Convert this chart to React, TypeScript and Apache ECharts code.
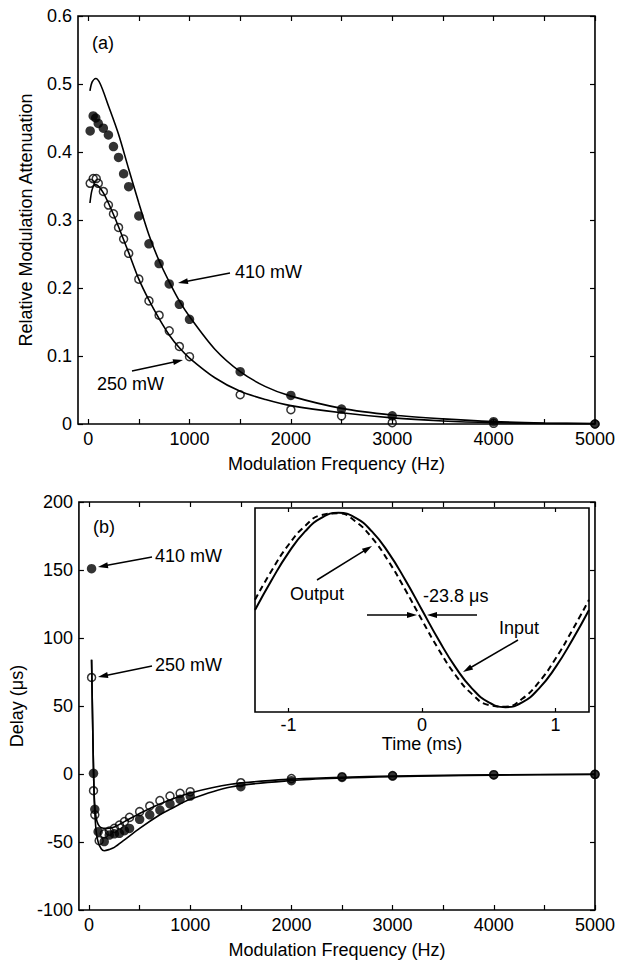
import React, { useEffect, useRef } from "react";
import * as echarts from "echarts";

const FONT = "'Liberation Sans', Arial, Helvetica, sans-serif";

// ---- Panel (a): relative modulation attenuation ----
const attenFreq410 = [20, 50, 75, 100, 150, 200, 250, 300, 350, 400, 500, 600, 700, 800, 900, 1000, 1500, 2000, 2500, 3000, 4000, 5000];
const atten410 = [0.431, 0.453, 0.450, 0.442, 0.435, 0.425, 0.408, 0.392, 0.368, 0.349, 0.306, 0.265, 0.236, 0.206, 0.176, 0.154, 0.077, 0.042, 0.022, 0.012, 0.0034, 0.0];
const attenFreq250 = [20, 50, 80, 100, 150, 200, 250, 300, 350, 400, 500, 600, 700, 800, 900, 1000, 1500, 2000, 2500, 3000, 4000, 5000];
const atten250 = [0.354, 0.361, 0.361, 0.354, 0.342, 0.322, 0.309, 0.289, 0.272, 0.251, 0.213, 0.181, 0.160, 0.137, 0.114, 0.099, 0.043, 0.021, 0.012, 0.002, 0.001, 0.0];

const fitFreqA410 = [18, 40, 75, 120, 200, 300, 400, 500, 600, 700, 800, 900, 1000, 1250, 1500, 1750, 2000, 2500, 3000, 3500, 4000, 4500, 5000];
const fitA410 = [0.490, 0.503, 0.508, 0.500, 0.468, 0.426, 0.375, 0.325, 0.278, 0.240, 0.209, 0.181, 0.158, 0.110, 0.077, 0.055, 0.041, 0.023, 0.0132, 0.0075, 0.0035, 0.0015, 0.0005];
const fitFreqA250 = [18, 40, 70, 100, 150, 200, 250, 300, 350, 400, 500, 600, 700, 800, 900, 1000, 1250, 1500, 1750, 2000, 2500, 3000, 3500, 4000, 4500, 5000];
const fitA250 = [0.325, 0.345, 0.352, 0.350, 0.340, 0.325, 0.308, 0.290, 0.271, 0.252, 0.213, 0.182, 0.155, 0.131, 0.112, 0.097, 0.068, 0.048, 0.036, 0.027, 0.0165, 0.009, 0.0045, 0.002, 0.0008, 0.0003];

// ---- Panel (b): delay ----
const delayFreq410 = [25, 44, 57, 90, 150, 200, 250, 300, 350, 400, 500, 600, 700, 800, 900, 1000, 1500, 2000, 2500, 3000, 4000, 5000];
const delay410 = [151, 0.5, -26, -42.4, -49.7, -44.9, -44, -43.6, -41.7, -40, -33.3, -30, -26.5, -22, -18.6, -16.2, -9.3, -4.9, -2.5, -1.5, -0.7, -0.2];
const delayFreq250 = [25, 44, 57, 100, 150, 200, 250, 300, 350, 400, 500, 600, 700, 800, 900, 1000, 1500, 2000, 2500, 3000, 4000, 5000];
const delay250 = [71, -12.3, -30, -49, -44, -42, -40, -37.5, -35, -31.9, -27.7, -23.5, -19.6, -16.2, -14.2, -13, -6.4, -3.4, -2, -1.2, -0.5, -0.2];

const fitFreqD250 = [25, 35, 45, 55, 70, 90, 120, 180, 250, 350, 500, 700, 1000, 1400, 2000, 2500, 3000, 4000, 5000];
const fitD250 = [84, 40, 0, -22, -32, -37, -39.5, -40, -39, -35, -29, -22, -14, -7.5, -3.8, -2.4, -1.5, -0.6, -0.2];
const fitFreqD410 = [25, 35, 45, 55, 70, 90, 120, 150, 200, 250, 350, 500, 700, 800, 1000, 1400, 2000, 2500, 3000, 4000, 5000];
const fitD410 = [84, 40, 0, -25, -42, -50, -55, -56.4, -55.5, -54, -48.5, -40, -30, -26, -18.6, -9.5, -4.8, -3, -2, -0.8, -0.3];

// ---- Inset: input / output waveforms ----
const insetTime = [-1.25, -1.125, -1, -0.875, -0.75, -0.625, -0.5, -0.375, -0.25, -0.125, 0, 0.125, 0.25, 0.375, 0.5, 0.625, 0.75, 0.875, 1, 1.125, 1.25];
const insetInput = [0, 0.309, 0.588, 0.809, 0.951, 1, 0.951, 0.809, 0.588, 0.309, 0, -0.309, -0.588, -0.809, -0.951, -1, -0.951, -0.809, -0.588, -0.309, 0];
const insetOutput = [0.105, 0.407, 0.669, 0.866, 0.978, 0.995, 0.914, 0.743, 0.5, 0.208, -0.105, -0.407, -0.669, -0.866, -0.978, -0.995, -0.914, -0.743, -0.5, -0.208, 0.105];

// ---- Ticks ----
const freqTicks = [0, 500, 1000, 1500, 2000, 2500, 3000, 3500, 4000, 4500, 5000];
const freqLabels = [0, 1000, 2000, 3000, 4000, 5000];
const timeTicks = [-1, 0, 1];

const zip = (xs: number[], ys: number[]) => xs.map((x, i) => [x, ys[i]]);

function arrowEls(x1: number, y1: number, x2: number, y2: number) {
  const dx = x2 - x1, dy = y2 - y1;
  const L = Math.hypot(dx, dy);
  const ux = dx / L, uy = dy / L;
  const hl = 10, hw = 3;
  const bx = x2 - ux * hl, by = y2 - uy * hl;
  return [
    { type: "line", shape: { x1, y1, x2: bx + ux * 2, y2: by + uy * 2 }, style: { stroke: "#000", lineWidth: 1.5 } },
    {
      type: "polygon",
      shape: { points: [[x2, y2], [bx - uy * hw, by + ux * hw], [bx + uy * hw, by - ux * hw]] },
      style: { fill: "#000" },
    },
  ];
}

function txt(text: string, x: number, y: number) {
  return {
    type: "text",
    x,
    y,
    style: { text, fill: "#000", font: `18px ${FONT}`, textVerticalAlign: "middle", textAlign: "left" },
  };
}

const labelStyle = { color: "#000", fontSize: 18, fontFamily: FONT };
const plain = (v: number) => String(v);

function freqAxis(gridIndex: number, bottom: boolean, nameGap: number) {
  return {
    type: "value",
    gridIndex,
    position: bottom ? "bottom" : "top",
    min: -100,
    max: 5000,
    axisLine: { show: false, onZero: false },
    axisTick: { show: true, inside: true, length: 5, customValues: freqTicks, lineStyle: { color: "#000", width: 1.2 } },
    axisLabel: bottom ? { show: true, ...labelStyle, margin: 6, customValues: freqLabels, formatter: plain } : { show: false },
    splitLine: { show: false },
    name: bottom ? "Modulation Frequency (Hz)" : "",
    nameLocation: "middle",
    nameGap,
    nameTextStyle: labelStyle,
  };
}

function valAxis(gridIndex: number, left: boolean, min: number, max: number, interval: number, name: string, fmt?: (v: number) => string) {
  return {
    type: "value",
    gridIndex,
    position: left ? "left" : "right",
    min,
    max,
    interval,
    axisLine: { show: false, onZero: false },
    axisTick: { show: true, inside: true, length: 5, lineStyle: { color: "#000", width: 1.2 } },
    axisLabel: left ? { show: true, ...labelStyle, margin: 6, formatter: fmt || plain } : { show: false },
    splitLine: { show: false },
    name: left ? name : "",
    nameLocation: "middle",
    nameGap: 43,
    nameTextStyle: labelStyle,
  };
}

const fitLine = (xi: number, yi: number, data: number[][]) => ({
  type: "line",
  xAxisIndex: xi,
  yAxisIndex: yi,
  data,
  showSymbol: false,
  smooth: 0.3,
  lineStyle: { color: "#000", width: 1.6 },
  silent: true,
  z: 2,
});

const filledPts = (xi: number, yi: number, data: number[][]) => ({
  type: "scatter",
  xAxisIndex: xi,
  yAxisIndex: yi,
  data,
  symbol: "circle",
  symbolSize: 9.5,
  itemStyle: { color: "#000" },
  silent: true,
  z: 4,
});

const openPts = (xi: number, yi: number, data: number[][]) => ({
  type: "scatter",
  xAxisIndex: xi,
  yAxisIndex: yi,
  data,
  symbol: "circle",
  symbolSize: 8,
  itemStyle: { color: "rgba(255,255,255,0)", borderColor: "#000", borderWidth: 1.5 },
  silent: true,
  z: 3,
});

export default function App() {
  const ref = useRef<HTMLDivElement>(null);
  useEffect(() => {
    if (!ref.current) return;
    const chart = echarts.init(ref.current, undefined, { renderer: "svg" });
    const option: any = {
      animation: false,
      backgroundColor: "#fff",
      grid: [
        { left: 78, top: 16, width: 518, height: 408, show: true, borderColor: "#000", borderWidth: 1.6, backgroundColor: "transparent" },
        { left: 78, top: 502, width: 518, height: 408, show: true, borderColor: "#000", borderWidth: 1.6, backgroundColor: "transparent" },
        { left: 255, top: 508, width: 334, height: 204, show: true, borderColor: "#000", borderWidth: 1.6, backgroundColor: "#fff" },
      ],
      xAxis: [
        freqAxis(0, true, 31),
        freqAxis(0, false, 0),
        freqAxis(1, true, 31),
        freqAxis(1, false, 0),
        {
          type: "value",
          gridIndex: 2,
          position: "bottom",
          min: -1.25,
          max: 1.25,
          axisLine: { show: false, onZero: false },
          axisTick: { show: true, inside: true, length: 4, customValues: timeTicks, lineStyle: { color: "#000", width: 1.2 } },
          axisLabel: { show: true, ...labelStyle, margin: 4, customValues: timeTicks, formatter: plain },
          splitLine: { show: false },
          name: "Time (ms)",
          nameLocation: "middle",
          nameGap: 20,
          nameTextStyle: labelStyle,
        },
        {
          type: "value",
          gridIndex: 2,
          position: "top",
          min: -1.25,
          max: 1.25,
          axisLine: { show: false, onZero: false },
          axisTick: { show: true, inside: true, length: 4, customValues: timeTicks, lineStyle: { color: "#000", width: 1.2 } },
          axisLabel: { show: false },
          splitLine: { show: false },
        },
      ],
      yAxis: [
        valAxis(0, true, 0, 0.6, 0.1, "Relative Modulation Attenuation", (v: number) => (v === 0 ? "0" : v.toFixed(1))),
        valAxis(0, false, 0, 0.6, 0.1, ""),
        valAxis(1, true, -100, 200, 50, "Delay (\u03bcs)"),
        valAxis(1, false, -100, 200, 50, ""),
        {
          type: "value",
          gridIndex: 2,
          min: -1.05,
          max: 1.05,
          axisLine: { show: false, onZero: false },
          axisTick: { show: false },
          axisLabel: { show: false },
          splitLine: { show: false },
        },
      ],
      series: [
        fitLine(0, 0, zip(fitFreqA410, fitA410)),
        fitLine(0, 0, zip(fitFreqA250, fitA250)),
        openPts(0, 0, zip(attenFreq250, atten250)),
        filledPts(0, 0, zip(attenFreq410, atten410)),
        fitLine(2, 2, zip(fitFreqD410, fitD410)),
        fitLine(2, 2, zip(fitFreqD250, fitD250)),
        openPts(2, 2, zip(delayFreq250, delay250)),
        filledPts(2, 2, zip(delayFreq410, delay410)),
        {
          type: "line",
          xAxisIndex: 4,
          yAxisIndex: 4,
          data: zip(insetTime, insetInput),
          showSymbol: false,
          smooth: true,
          lineStyle: { color: "#000", width: 2 },
          silent: true,
          z: 5,
        },
        {
          type: "line",
          xAxisIndex: 4,
          yAxisIndex: 4,
          data: zip(insetTime, insetOutput),
          showSymbol: false,
          smooth: true,
          lineStyle: { color: "#000", width: 2, type: [6, 4] },
          silent: true,
          z: 5,
        },
      ],
      graphic: [
        txt("(a)", 92, 43),
        txt("410 mW", 235, 272),
        ...arrowEls(230, 273, 178, 283),
        txt("250 mW", 97, 384),
        ...arrowEls(132, 371, 183, 360),
        txt("(b)", 93, 527),
        txt("410 mW", 155, 556),
        ...arrowEls(152, 557, 98, 567),
        txt("250 mW", 155, 665),
        ...arrowEls(152, 666, 98, 677),
        txt("Output", 290, 594),
        ...arrowEls(317, 580, 372, 546),
        txt("-23.8 \u03bcs", 423, 596),
        ...arrowEls(367, 615, 417, 615),
        ...arrowEls(477, 615, 427, 615),
        txt("Input", 499, 628),
        ...arrowEls(518, 640, 463, 672),
      ].map((g: any) => ({ ...g, z: 100 })),
    };
    chart.setOption(option);
    return () => chart.dispose();
  }, []);
  return (
    <div
      ref={ref}
      style={{ position: "fixed", left: 0, top: 0, width: 618, height: 961, background: "#fff" }}
    />
  );
}
